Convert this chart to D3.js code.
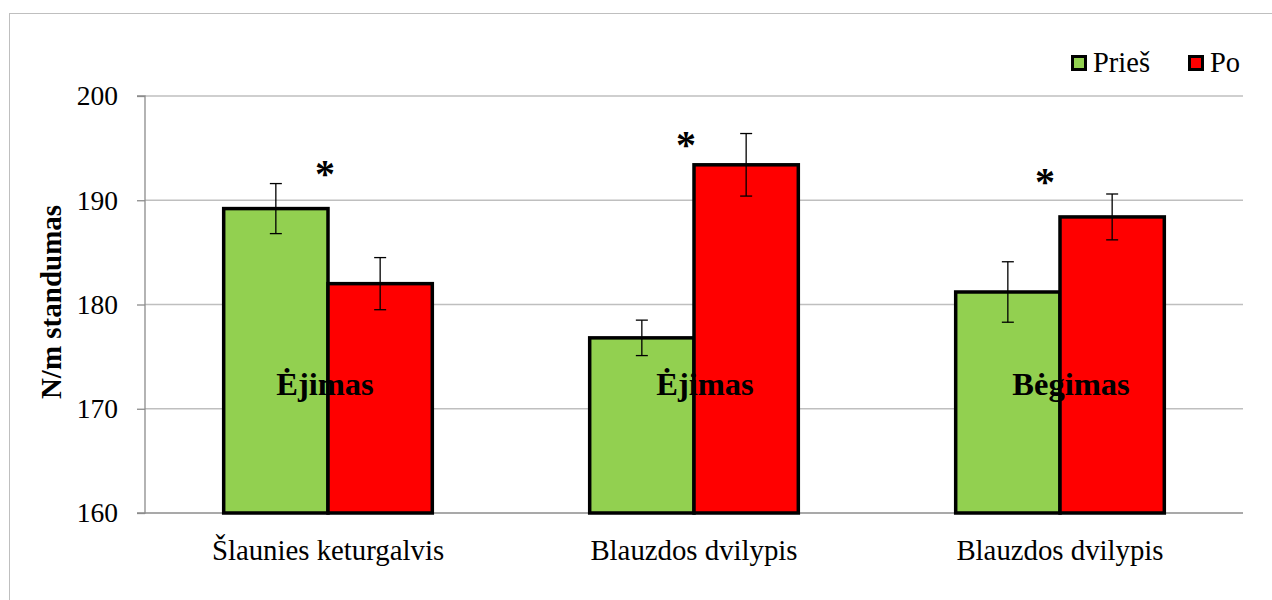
<!DOCTYPE html>
<html><head><meta charset="utf-8">
<script src="https://cdn.jsdelivr.net/npm/d3@7"></script>
<style>body{margin:0;background:#fff}svg{display:block}</style>
</head><body>
<svg id="c" width="1272" height="600" font-family="Liberation Serif, DejaVu Serif, serif"></svg>
<script>
const categories = ["Šlaunies keturgalvis", "Blauzdos dvilypis", "Blauzdos dvilypis"];
const innerLabels = ["Ėjimas", "Ėjimas", "Bėgimas"];
const seriesNames = ["Prieš", "Po"];
const priesValues = [189.2, 176.8, 181.2];
const poValues = [182.0, 193.4, 188.4];
const priesErr = [2.4, 1.7, 2.9];
const poErr = [2.5, 3.0, 2.2];
const starLevels = [192.9, 195.7, 192.1]; // value level of the significance asterisk
const yTicks = [160, 170, 180, 190, 200];
const colors = ["#92d050", "#ff0000"];
const FONT = "Liberation Serif, DejaVu Serif, serif";

const svg = d3.select("#c");
const L = 145, R = 1243, T = 96, B = 513;

svg.append("rect").attr("x", 9.5).attr("y", 13.5).attr("width", 1300).attr("height", 700)
  .attr("fill", "none").attr("stroke", "#bfbfbf").attr("stroke-width", 1);

const y = d3.scaleLinear().domain([160, 200]).range([B, T]);
const x0 = d3.scaleBand().domain(d3.range(categories.length)).range([L, R]).paddingInner(0.43).paddingOuter(0.215);
const x1 = d3.scaleBand().domain([0, 1]).range([0, x0.bandwidth()]);

svg.append("g").selectAll("line").data(yTicks.filter(d => d > 160)).join("line")
  .attr("x1", L).attr("x2", R).attr("y1", d => y(d)).attr("y2", d => y(d))
  .attr("stroke", "#bfbfbf").attr("stroke-width", 1.3);

const yAxis = d3.axisLeft(y).tickValues(yTicks).tickSize(8).tickPadding(19);
const ga = svg.append("g").attr("transform", `translate(${L},0)`).call(yAxis).attr("font-family", FONT);
ga.select(".domain").attr("stroke", "#8c8c8c").attr("stroke-width", 1.3).attr("d", `M-8,${T}H0V${B}H-8`);
ga.selectAll(".tick line").attr("stroke", "#8c8c8c").attr("stroke-width", 1.3);
ga.selectAll(".tick text").attr("font-size", 27.5).attr("fill", "#000").attr("font-family", FONT);
svg.append("line").attr("x1", L).attr("x2", R).attr("y1", B).attr("y2", B).attr("stroke", "#8c8c8c").attr("stroke-width", 1.3);

const data = categories.map((c, i) => ({
  i, vals: [priesValues[i], poValues[i]], errs: [priesErr[i], poErr[i]], star: starLevels[i]
}));

const g = svg.append("g").selectAll("g").data(data).join("g")
  .attr("transform", d => `translate(${x0(d.i)},0)`);

g.selectAll("rect").data(d => d.vals.map((v, s) => ({v, s}))).join("rect")
  .attr("x", d => x1(d.s)).attr("width", x1.bandwidth())
  .attr("y", d => y(d.v)).attr("height", d => B - y(d.v))
  .attr("fill", d => colors[d.s]).attr("stroke", "#000").attr("stroke-width", 3.5);

g.selectAll("g.err").data(d => d.vals.map((v, s) => ({v, e: d.errs[s], s}))).join("g").attr("class", "err")
  .each(function(d) {
    const cx = x1(d.s) + x1.bandwidth() / 2;
    const gg = d3.select(this);
    gg.append("line").attr("x1", cx).attr("x2", cx).attr("y1", y(d.v + d.e)).attr("y2", y(d.v - d.e)).attr("stroke", "#000").attr("stroke-width", 1.3);
    [d.v + d.e, d.v - d.e].forEach(w => gg.append("line").attr("x1", cx - 6).attr("x2", cx + 6).attr("y1", y(w)).attr("y2", y(w)).attr("stroke", "#000").attr("stroke-width", 1.3));
  });

const starDx = [-3, -8, -15];
g.append("text").text("*")
  .attr("x", d => x0.bandwidth() / 2 + starDx[d.i])
  .attr("y", d => y(d.star) + 17)
  .attr("text-anchor", "middle").attr("font-size", 40).attr("font-weight", "bold").attr("fill", "#000");

g.append("text").text(d => innerLabels[d.i])
  .attr("x", d => x0.bandwidth() / 2 + (d.i === 0 ? -3 : 11))
  .attr("y", 395).attr("text-anchor", "middle").attr("font-size", 32.5).attr("font-weight", "bold");

svg.append("g").selectAll("text").data(categories).join("text")
  .attr("x", (d, i) => x0(i) + x0.bandwidth() / 2).attr("y", 560)
  .attr("text-anchor", "middle").attr("font-size", 28.8).text(d => d);

svg.append("text").attr("transform", "translate(61,302) rotate(-90)")
  .attr("text-anchor", "middle").attr("font-size", 29).attr("font-weight", "bold").text("N/m standumas");

const legX = [1071, 1188];
const lg = svg.append("g").selectAll("g").data(seriesNames).join("g")
  .attr("transform", (d, i) => `translate(${legX[i]},55)`);
lg.append("rect").attr("x", 1.5).attr("y", 1.5).attr("width", 13).attr("height", 13)
  .attr("fill", (d, i) => colors[i]).attr("stroke", "#000").attr("stroke-width", 3);
lg.append("text").attr("x", 22).attr("y", 17).attr("font-size", 28.5).text(d => d);
</script>
</body></html>
